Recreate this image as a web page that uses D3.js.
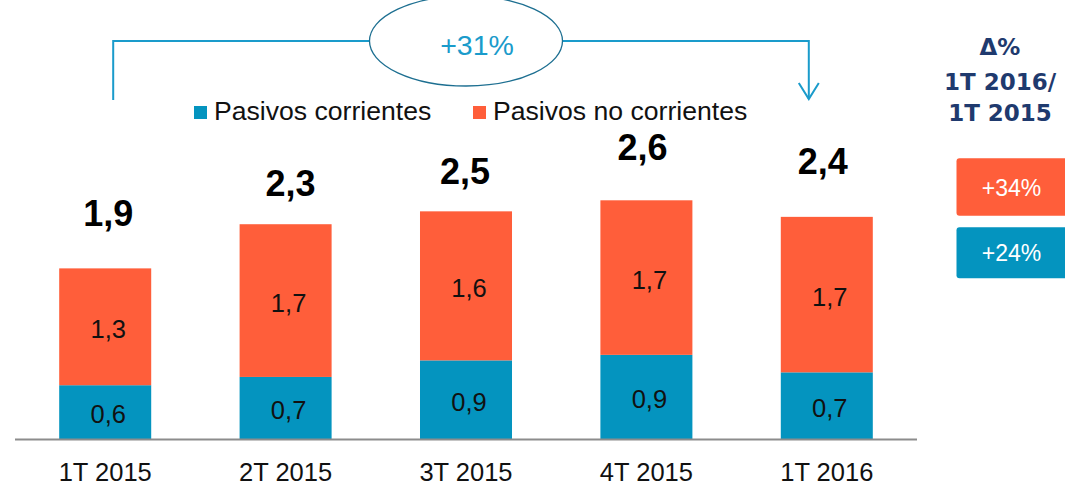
<!DOCTYPE html>
<html>
<head>
<meta charset="utf-8">
<script src="https://cdn.jsdelivr.net/npm/d3@7"></script>
<style>
  html, body { margin: 0; padding: 0; background: #fff; }
  svg { display: block; font-family: "Liberation Sans", Arial, sans-serif; }
</style>
</head>
<body>
<svg id="chart" width="1065" height="486"></svg>
<script>
'use strict';

// quarters on the x axis
const categories = ['1T 2015', '2T 2015', '3T 2015', '4T 2015', '1T 2016'];

// bn (labels are rounded to one decimal)
const pasivosCorrientes = [0.59, 0.68, 0.86, 0.92, 0.73];
const pasivosNoCorrientes = [1.27, 1.66, 1.62, 1.68, 1.69];

const seriesNames = ['Pasivos corrientes', 'Pasivos no corrientes'];
const seriesColors = ['#0494bf', '#ff5e3a'];

// variation 1T 2016 / 1T 2015
const totalChange = '+31%';
const seriesChange = ['+24%', '+34%'];
const changeTitle = ['Δ%', '1T 2016/', '1T 2015'];

// hand placed total labels on the slide: gap above bar top, horizontal nudge
const totalGap = [42, 28, 27, 40, 43];
const totalNudge = [3, 5, -1, -4, -4];

const fmt = v => d3.format('.1f')(v).replace('.', ',');

const svg = d3.select('#chart');

const baseY = 439.5;
const x = d3.scaleBand()
  .domain(categories)
  .range([15, 917])
  .paddingInner(0.49)
  .paddingOuter(0.245);

const y = d3.scaleLinear()
  .domain([0, 3])
  .range([baseY, baseY - 276]);

const rows = categories.map((c, i) => ({
  cat: c,
  corr: pasivosCorrientes[i],
  noCorr: pasivosNoCorrientes[i]
}));

const stack = d3.stack().keys(['corr', 'noCorr'])(rows);

// bars
svg.append('g')
  .selectAll('g')
  .data(stack)
  .join('g')
    .attr('fill', (d, i) => seriesColors[i])
  .selectAll('rect')
  .data(d => d)
  .join('rect')
    .attr('x', d => x(d.data.cat))
    .attr('y', d => y(d[1]))
    .attr('width', x.bandwidth())
    .attr('height', d => y(d[0]) - y(d[1]));

// segment labels
svg.append('g')
  .selectAll('g')
  .data(stack)
  .join('g')
  .selectAll('text')
  .data(d => d)
  .join('text')
    .attr('x', d => x(d.data.cat) + x.bandwidth() / 2 + 3)
    .attr('y', d => (y(d[0]) + y(d[1])) / 2 + 11)
    .attr('text-anchor', 'middle')
    .attr('font-size', 25.5)
    .attr('fill', '#111')
    .text(d => fmt(d[1] - d[0]));

// totals
svg.append('g')
  .selectAll('text')
  .data(rows)
  .join('text')
    .attr('x', (d, i) => x(d.cat) + x.bandwidth() / 2 + totalNudge[i])
    .attr('y', (d, i) => y(d.corr + d.noCorr) - totalGap[i])
    .attr('text-anchor', 'middle')
    .attr('font-size', 36)
    .attr('font-weight', 'bold')
    .attr('fill', '#000')
    .text(d => fmt(d.corr + d.noCorr));

// x axis: plain grey baseline and category labels
const axis = svg.append('g')
  .attr('transform', `translate(0,${baseY})`)
  .call(d3.axisBottom(x).tickSize(0).tickPadding(23));
axis.select('.domain')
  .attr('d', `M15,0H917`)
  .attr('stroke', '#8c8c8c')
  .attr('stroke-width', 2);
axis.selectAll('text')
  .attr('font-family', '"Liberation Sans", Arial, sans-serif')
  .attr('font-size', 25.5)
  .attr('fill', '#111');

// legend
const legendX = [194, 473];
const legend = svg.append('g')
  .selectAll('g')
  .data(seriesNames)
  .join('g')
    .attr('transform', (d, i) => `translate(${legendX[i]},106)`);
legend.append('rect')
  .attr('width', 13)
  .attr('height', 13)
  .attr('fill', (d, i) => seriesColors[i]);
legend.append('text')
  .attr('x', 20)
  .attr('y', 14)
  .attr('font-size', 26.6)
  .attr('fill', '#111')
  .text(d => d);

// growth connector from first to last quarter
const cx = i => x(categories[i]) + x.bandwidth() / 2;
const lineY = 41;
const leftX = cx(0) + 8;
const rightX = cx(4) - 18;
const ellX = cx(2);
const connector = svg.append('g')
  .attr('fill', 'none')
  .attr('stroke', '#1a9bcb')
  .attr('stroke-width', 2);
connector.append('path')
  .attr('d', `M${leftX},100V${lineY}H${rightX}V99`);
connector.append('path')
  .attr('d', `M${rightX - 10},83L${rightX},99L${rightX + 10},83`);

svg.append('ellipse')
  .attr('cx', ellX)
  .attr('cy', lineY)
  .attr('rx', 96.5)
  .attr('ry', 45)
  .attr('fill', '#fff')
  .attr('stroke', '#1d6f91')
  .attr('stroke-width', 1.3);
svg.append('text')
  .attr('x', ellX + 11)
  .attr('y', 55)
  .attr('text-anchor', 'middle')
  .attr('font-size', 28.5)
  .attr('fill', '#1a9bcb')
  .text(totalChange);

// right hand variation panel
svg.append('g')
  .selectAll('text')
  .data(changeTitle)
  .join('text')
    .attr('x', 1000)
    .attr('y', (d, i) => [55, 89.5, 121][i])
    .attr('text-anchor', 'middle')
    .attr('font-family', '"DejaVu Sans", Verdana, sans-serif')
    .attr('font-size', 23)
    .attr('font-weight', 'bold')
    .attr('fill', '#1f3a6e')
    .text(d => d);

// boxes: non current on top, current below
const boxes = [
  { label: seriesChange[1], color: seriesColors[1], top: 158.3, h: 57.4 },
  { label: seriesChange[0], color: seriesColors[0], top: 227.3, h: 51 }
];
const box = svg.append('g')
  .selectAll('g')
  .data(boxes)
  .join('g');
box.append('rect')
  .attr('x', 956.5)
  .attr('y', d => d.top)
  .attr('width', 112)
  .attr('height', d => d.h)
  .attr('rx', 3)
  .attr('fill', d => d.color);
box.append('text')
  .attr('x', 1011.5)
  .attr('y', d => d.top + d.h / 2 + 8.5)
  .attr('text-anchor', 'middle')
  .attr('font-size', 23)
  .attr('fill', '#fff')
  .text(d => d.label);
</script>
</body>
</html>
